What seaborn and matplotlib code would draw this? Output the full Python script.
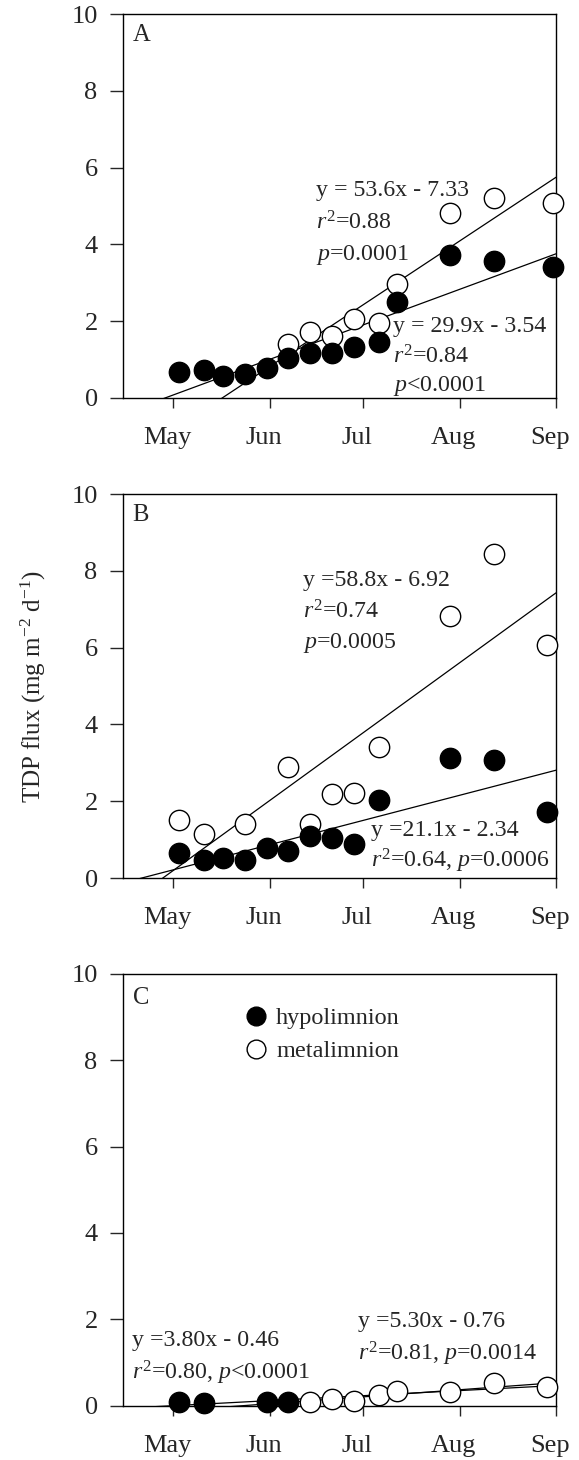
import numpy as np
import pandas as pd
import matplotlib
matplotlib.use("Agg")
import matplotlib.pyplot as plt
import matplotlib.transforms as mtransforms
from matplotlib.lines import Line2D
import seaborn as sns

# ---------------- data (x = day of year) ----------------
month_ticks = [121, 152, 182, 213, 244]
month_labels = ["May", "Jun", "Jul", "Aug", "Sep"]

a_hypo_day = [123, 131, 137, 144, 151, 158, 165, 172, 179, 187, 193, 210, 224, 243]
a_hypo_val = [0.68, 0.72, 0.56, 0.63, 0.78, 1.04, 1.17, 1.17, 1.34, 1.45, 2.50, 3.72, 3.57, 3.42]
a_meta_day = [158, 165, 172, 179, 187, 193, 210, 224, 243]
a_meta_val = [1.40, 1.72, 1.62, 2.05, 1.95, 2.97, 4.83, 5.20, 5.09]

b_hypo_day = [123, 131, 137, 144, 151, 158, 165, 172, 179, 187, 210, 224, 241]
b_hypo_val = [0.66, 0.47, 0.52, 0.46, 0.78, 0.70, 1.10, 1.05, 0.88, 2.04, 3.12, 3.08, 1.72]
b_meta_day = [123, 131, 144, 158, 165, 172, 179, 187, 210, 224, 241]
b_meta_val = [1.50, 1.14, 1.41, 2.89, 1.41, 2.20, 2.22, 3.41, 6.82, 8.45, 6.06]

c_hypo_day = [123, 131, 151, 158]
c_hypo_val = [0.08, 0.07, 0.09, 0.09]
c_meta_day = [165, 172, 179, 187, 193, 210, 224, 241]
c_meta_val = [0.09, 0.15, 0.12, 0.25, 0.34, 0.32, 0.52, 0.44]

# regression coefficients (y = slope * x + intercept, x = day/1000)
a_hypo_fit = (29.9, -3.54)
a_meta_fit = (53.6, -7.33)
b_hypo_fit = (21.1, -2.34)
b_meta_fit = (58.8, -6.92)
c_hypo_fit = (3.80, -0.46)
c_meta_fit = (5.30, -0.76)

# ---------------- style ----------------
sns.set_style("ticks")
plt.rcParams["font.family"] = ["Liberation Serif", "DejaVu Serif"]
plt.rcParams["mathtext.fontset"] = "custom"
plt.rcParams["mathtext.rm"] = "Liberation Serif"
plt.rcParams["mathtext.it"] = "Liberation Serif:italic"
plt.rcParams["mathtext.bf"] = "Liberation Serif:bold"

FS_TICK = 19
FS_TXT = 17.2
MS = 215
XMIN, XMAX = 105, 244

fig = plt.figure(figsize=(5.79, 14.6), dpi=100)
left, width = 0.213, 0.7473
axA = fig.add_axes([left, 0.7274, width, 0.2630])
axB = fig.add_axes([left, 0.3986, width, 0.2630])
axC = fig.add_axes([left, 0.0372, width, 0.2957])


def draw_panel(ax, hd, hv, md, mv, hfit, mfit, meta_first=True):
    xs = np.linspace(XMIN, XMAX, 200)
    for fit in (hfit, mfit):
        line_df = pd.DataFrame({"x": xs, "y": fit[0] * xs / 1000.0 + fit[1]})
        sns.lineplot(data=line_df, x="x", y="y", ax=ax, color="black", lw=0.9, zorder=2)
    hdf = pd.DataFrame({"x": hd, "y": hv})
    mdf = pd.DataFrame({"x": md, "y": mv})
    order = [(mdf, "white"), (hdf, "black")] if meta_first else [(hdf, "black"), (mdf, "white")]
    z = 3
    for df, fc in order:
        sns.scatterplot(data=df, x="x", y="y", ax=ax, s=MS, color=fc, edgecolor="black",
                        linewidth=1.0, zorder=z, clip_on=False)
        z += 1
    ax.set_xlim(XMIN, XMAX)
    ax.set_ylim(0, 10)
    ax.set_xticks(month_ticks)
    ax.set_xticklabels(month_labels)
    ax.set_yticks([0, 2, 4, 6, 8, 10])
    ax.set_xlabel("")
    ax.set_ylabel("")
    for s in ax.spines.values():
        s.set_visible(True)
        s.set_linewidth(1.0)
        s.set_color("black")
    ax.tick_params(axis="x", length=7, width=1.0, pad=14, labelsize=FS_TICK, direction="out")
    ax.tick_params(axis="y", length=9.5, width=1.0, pad=9, labelsize=FS_TICK, direction="out")
    off = mtransforms.ScaledTranslation(-6 / 100.0, 0, fig.dpi_scale_trans)
    for lab in ax.get_xticklabels():
        lab.set_transform(lab.get_transform() + off)
    leg = ax.get_legend()
    if leg is not None:
        leg.remove()


draw_panel(axA, a_hypo_day, a_hypo_val, a_meta_day, a_meta_val, a_hypo_fit, a_meta_fit)
draw_panel(axB, b_hypo_day, b_hypo_val, b_meta_day, b_meta_val, b_hypo_fit, b_meta_fit)
draw_panel(axC, c_hypo_day, c_hypo_val, c_meta_day, c_meta_val, c_hypo_fit, c_meta_fit,
           meta_first=False)

# panel letters
for ax, letter in ((axA, "A"), (axB, "B"), (axC, "C")):
    ax.text(108, 9.45, letter, fontsize=FS_TXT + 0.5, va="center", ha="left")

# annotations
def lines(ax, x, ys, texts):
    for y, t in zip(ys, texts):
        ax.text(x, y, t, fontsize=FS_TXT, va="center", ha="left", zorder=6)

lines(axA, 166.8, [5.41, 4.57, 3.72], ["y = 53.6x - 7.33", "$r^2$=0.88", "$p$=0.0001"])
lines(axA, 191.7, [1.87, 1.06, 0.30], ["y = 29.9x - 3.54", "$r^2$=0.84", "$p$<0.0001"])
lines(axB, 162.6, [7.76, 6.92, 6.12], ["y =58.8x - 6.92", "$r^2$=0.74", "$p$=0.0005"])
lines(axB, 184.6, [1.24, 0.44], ["y =21.1x - 2.34", "$r^2$=0.64, $p$=0.0006"])
lines(axC, 107.7, [1.52, 0.76], ["y =3.80x - 0.46", "$r^2$=0.80, $p$<0.0001"])
lines(axC, 180.4, [1.95, 1.21], ["y =5.30x - 0.76", "$r^2$=0.81, $p$=0.0014"])

# legend in panel C
handles = [
    Line2D([], [], marker="o", ls="none", markersize=13.5, markerfacecolor="black",
           markeredgecolor="black", markeredgewidth=1.0, label="hypolimnion"),
    Line2D([], [], marker="o", ls="none", markersize=13.5, markerfacecolor="white",
           markeredgecolor="black", markeredgewidth=1.0, label="metalimnion"),
]
axC.legend(handles=handles, loc="upper left", bbox_to_anchor=(0.255, 0.945), frameon=False,
           fontsize=FS_TXT + 0.3, handletextpad=0.35, labelspacing=0.45, handlelength=1.0,
           borderaxespad=0)

fig.text(0.058, 0.530, "TDP flux (mg m$^{-2}$ d$^{-1}$)", rotation=90, fontsize=18,
         ha="center", va="center")

fig.savefig("out.png", dpi=100)
